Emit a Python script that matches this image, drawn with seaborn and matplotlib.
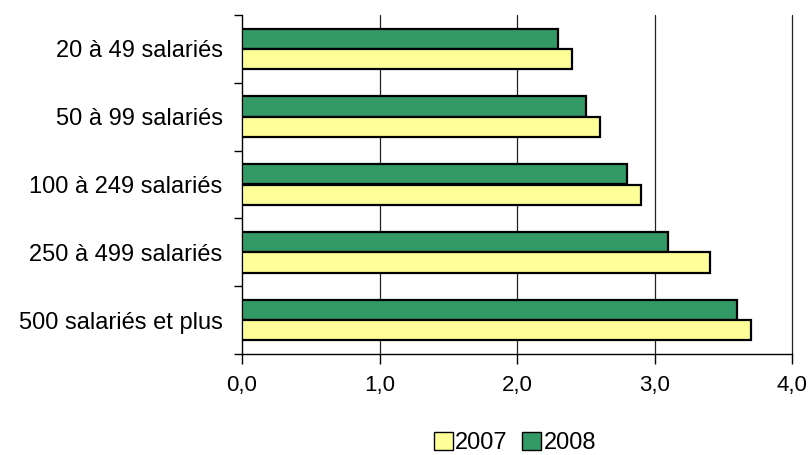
import matplotlib
matplotlib.use("Agg")
import matplotlib.pyplot as plt
from matplotlib.patches import Patch
from matplotlib.ticker import FixedLocator, FuncFormatter
import seaborn as sns
import pandas as pd

categories = ["20 à 49 salariés", "50 à 99 salariés", "100 à 249 salariés",
              "250 à 499 salariés", "500 salariés et plus"]
values_2007 = [2.4, 2.6, 2.9, 3.4, 3.7]
values_2008 = [2.3, 2.5, 2.8, 3.1, 3.6]
years = ["2007", "2008"]
x_ticks = [0, 1, 2, 3, 4]

colors = {"2007": "#FFFF99", "2008": "#339966"}

df = pd.DataFrame({
    "cat": categories * 2,
    "val": values_2007 + values_2008,
    "year": ["2007"] * len(categories) + ["2008"] * len(categories),
})

sns.set_theme(style="white")
plt.rcParams["font.family"] = ["Liberation Sans", "DejaVu Sans"]
plt.rcParams["text.color"] = "black"
plt.rcParams["xtick.color"] = "black"
plt.rcParams["ytick.color"] = "black"

fig = plt.figure(figsize=(8.09, 4.55), dpi=100)
ax = fig.add_axes([242 / 809, 1 - 354 / 455, 550 / 809, 339 / 455])

sns.barplot(data=df, x="val", y="cat", hue="year", hue_order=["2008", "2007"],
            order=categories, palette=colors, saturation=1, width=0.6, orient="h",
            edgecolor="black", linewidth=1.6, ax=ax, legend=False, zorder=3)

ax.set_xlim(0, 4)
ax.set_ylim(len(categories) - 0.5, -0.5)
ax.set_xlabel("")
ax.set_ylabel("")

ax.xaxis.set_major_locator(FixedLocator(x_ticks))
ax.xaxis.set_major_formatter(FuncFormatter(lambda v, p: f"{v:.1f}".replace(".", ",")))
ax.tick_params(axis="x", direction="out", length=7, width=1, color="black",
               labelsize=16, labelcolor="black", pad=8, bottom=True)

# category labels at centres, tick marks at band boundaries
ax.yaxis.set_minor_locator(FixedLocator([i - 0.5 for i in range(len(categories) + 1)]))
ax.tick_params(axis="y", which="major", length=0, labelsize=17, labelcolor="black", pad=14)
ax.tick_params(axis="y", which="minor", direction="out", length=6, width=1,
               color="black", left=True)

ax.grid(False)
for xv in x_ticks[1:]:
    ax.axvline(xv, color="#222222", linewidth=0.9, zorder=0, clip_on=False)
for side in ["top", "right"]:
    ax.spines[side].set_visible(False)
for side in ["left", "bottom"]:
    ax.spines[side].set_color("black")
    ax.spines[side].set_linewidth(1)

handles = [Patch(facecolor=colors[y], edgecolor="black", linewidth=1, label=y) for y in years]
fig.legend(handles=handles, loc="center", bbox_to_anchor=(515 / 809, 1 - 443 / 455),
           ncol=2, frameon=False, fontsize=17, handlelength=0.8, handleheight=0.8,
           handletextpad=0.1, columnspacing=0.6, borderpad=0)

fig.savefig("out.png", dpi=100)
